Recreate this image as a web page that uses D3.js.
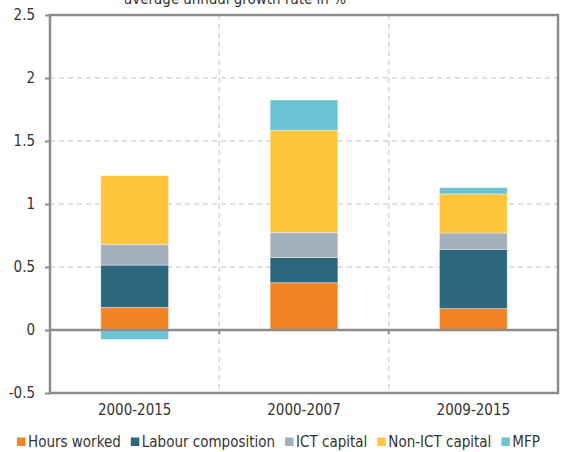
<!DOCTYPE html>
<html>
<head>
<meta charset="utf-8">
<script src="https://cdn.jsdelivr.net/npm/d3@7"></script>
<style>
  html, body { margin: 0; padding: 0; background: #fff; }
  svg { display: block; }
  text { font-family: "DejaVu Sans Condensed", "DejaVu Sans", sans-serif; font-stretch: condensed; fill: #333333; }
</style>
</head>
<body>
<svg id="chart" width="562" height="452"></svg>
<script>
// Growth accounting periods
const periods = ["2000-2015", "2000-2007", "2009-2015"];

// Contributions to growth (percentage points)
const hoursWorked        = [0.18, 0.375, 0.17];
const labourComposition  = [0.335, 0.20, 0.47];
const ictCapital         = [0.165, 0.20, 0.13];
const nonIctCapital      = [0.545, 0.81, 0.31];
const mfp                = [-0.075, 0.24, 0.05];

const seriesNames  = ["Hours worked", "Labour composition", "ICT capital", "Non-ICT capital", "MFP"];
const seriesColors = ["#f38426", "#2d677d", "#a4afbc", "#ffc53b", "#6dc3d3"];

const yTicks = [-0.5, 0, 0.5, 1, 1.5, 2, 2.5];
const titleText = "average annual growth rate in %";

const rows = periods.map((p, i) => ({
  period: p,
  "Hours worked": hoursWorked[i],
  "Labour composition": labourComposition[i],
  "ICT capital": ictCapital[i],
  "Non-ICT capital": nonIctCapital[i],
  "MFP": mfp[i]
}));

const svg = d3.select("#chart");
const plotLeft = 50, plotRight = 558, plotTop = 15, plotBottom = 393;

const x = d3.scaleBand().domain(periods).range([plotLeft, plotRight]).paddingInner(0).paddingOuter(0);
const y = d3.scaleLinear().domain([-0.5, 2.5]).range([plotBottom, plotTop]);
const color = d3.scaleOrdinal().domain(seriesNames).range(seriesColors);

const gridColor = "#d6d6d6";
const axisColor = "#8c8c8c";
const textColor = "#333333";
const fontStack = '"DejaVu Sans Condensed", "DejaVu Sans", sans-serif';
const fontSize = 15;

// Horizontal dashed gridlines
svg.append("g")
  .selectAll("line")
  .data(yTicks.filter(t => t !== 0 && t !== -0.5 && t !== 2.5))
  .join("line")
  .attr("x1", plotLeft).attr("x2", plotRight)
  .attr("y1", d => y(d)).attr("y2", d => y(d))
  .attr("stroke", gridColor).attr("stroke-width", 1.5)
  .attr("stroke-dasharray", "5,4");

// Vertical dashed separators between periods
svg.append("g")
  .selectAll("line")
  .data(periods.slice(1))
  .join("line")
  .attr("x1", d => x(d)).attr("x2", d => x(d))
  .attr("y1", plotTop).attr("y2", plotBottom)
  .attr("stroke", gridColor).attr("stroke-width", 1.5)
  .attr("stroke-dasharray", "5,4");

// Stacked bars (negative values stack below zero)
const stack = d3.stack().keys(seriesNames).offset(d3.stackOffsetDiverging);
const stacked = stack(rows);
const barW = x.bandwidth() * 0.4;

svg.append("g")
  .selectAll("g")
  .data(stacked)
  .join("g")
  .attr("fill", d => color(d.key))
  .selectAll("rect")
  .data(d => d)
  .join("rect")
  .attr("x", d => x(d.data.period) + (x.bandwidth() - barW) / 2)
  .attr("width", barW)
  .attr("y", d => y(Math.max(d[0], d[1])))
  .attr("height", d => Math.abs(y(d[0]) - y(d[1])))
  .attr("stroke", "#ffffff").attr("stroke-opacity", 0.45).attr("stroke-width", 0.8);

// Frame
svg.append("rect")
  .attr("x", plotLeft).attr("y", plotTop)
  .attr("width", plotRight - plotLeft).attr("height", plotBottom - plotTop)
  .attr("fill", "none").attr("stroke", axisColor).attr("stroke-width", 2.5);

// Zero line
svg.append("line")
  .attr("x1", plotLeft).attr("x2", plotRight)
  .attr("y1", y(0)).attr("y2", y(0))
  .attr("stroke", axisColor).attr("stroke-width", 2.5);

// Small ticks on the zero line at period boundaries
svg.append("g")
  .selectAll("line")
  .data(periods.slice(1))
  .join("line")
  .attr("x1", d => x(d)).attr("x2", d => x(d))
  .attr("y1", y(0)).attr("y2", y(0) + 4)
  .attr("stroke", axisColor).attr("stroke-width", 2);

// Y axis (plain hyphen for negatives)
const yAxis = d3.axisLeft(y).tickValues(yTicks).tickSize(5).tickPadding(10)
  .tickFormat(d => String(d));
const yg = svg.append("g").attr("transform", `translate(${plotLeft},0)`).call(yAxis);
yg.select(".domain").remove();
yg.selectAll(".tick line").attr("stroke", axisColor).attr("stroke-width", 2);
yg.selectAll(".tick text").attr("font-size", fontSize).attr("fill", textColor)
  .style("font-family", fontStack);

// X axis labels
const xAxis = d3.axisBottom(x).tickSize(0).tickPadding(11);
const xg = svg.append("g").attr("transform", `translate(0,${plotBottom})`).call(xAxis);
xg.select(".domain").remove();
xg.selectAll(".tick text").attr("font-size", fontSize).attr("fill", textColor)
  .style("font-family", fontStack);

// Subtitle (runs off the top edge)
svg.append("text")
  .attr("x", 235).attr("y", 4)
  .attr("text-anchor", "middle")
  .attr("font-size", fontSize)
  .text(titleText);

// Legend
const legend = svg.append("g").attr("transform", "translate(0,447)");
let cx = 17;
seriesNames.forEach((name, i) => {
  const item = legend.append("g");
  item.append("rect")
    .attr("x", cx).attr("y", -9.5)
    .attr("width", 8.5).attr("height", 8.5)
    .attr("fill", seriesColors[i]);
  const t = item.append("text")
    .attr("x", cx + 11).attr("y", 0)
    .attr("font-size", fontSize)
    .text(name);
  cx += 11 + t.node().getComputedTextLength() + 10;
});
</script>
</body>
</html>
